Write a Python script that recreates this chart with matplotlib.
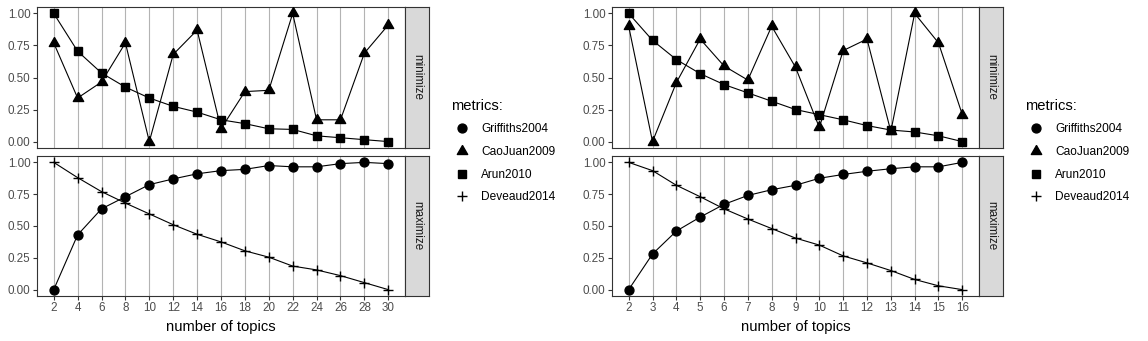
import matplotlib
matplotlib.use("Agg")
import matplotlib.pyplot as plt
from matplotlib.lines import Line2D

plt.rcParams["font.family"] = ["Liberation Sans", "DejaVu Sans"]

# first run: 2..30 topics
topics_a = [2, 4, 6, 8, 10, 12, 14, 16, 18, 20, 22, 24, 26, 28, 30]
griffiths_a = [0.00, 0.43, 0.635, 0.73, 0.825, 0.87, 0.91, 0.935, 0.945, 0.975, 0.965, 0.965, 0.99, 1.00, 0.99]
caojuan_a = [0.77, 0.34, 0.465, 0.77, 0.00, 0.68, 0.87, 0.10, 0.39, 0.40, 1.00, 0.17, 0.17, 0.69, 0.91]
arun_a = [1.00, 0.705, 0.535, 0.425, 0.34, 0.275, 0.23, 0.17, 0.14, 0.10, 0.095, 0.045, 0.03, 0.015, 0.00]
deveaud_a = [1.00, 0.88, 0.77, 0.68, 0.595, 0.51, 0.435, 0.375, 0.305, 0.255, 0.185, 0.155, 0.11, 0.055, 0.00]

# second run: 2..16 topics
topics_b = [2, 3, 4, 5, 6, 7, 8, 9, 10, 11, 12, 13, 14, 15, 16]
griffiths_b = [0.00, 0.28, 0.46, 0.57, 0.67, 0.74, 0.785, 0.82, 0.875, 0.905, 0.93, 0.95, 0.965, 0.965, 1.00]
caojuan_b = [0.90, 0.00, 0.46, 0.80, 0.59, 0.48, 0.90, 0.58, 0.11, 0.71, 0.80, 0.08, 1.00, 0.77, 0.21]
arun_b = [1.00, 0.79, 0.64, 0.53, 0.445, 0.38, 0.315, 0.25, 0.21, 0.17, 0.125, 0.09, 0.075, 0.045, 0.00]
deveaud_b = [1.00, 0.935, 0.82, 0.73, 0.635, 0.555, 0.48, 0.405, 0.35, 0.265, 0.21, 0.15, 0.08, 0.03, 0.00]

metric_names = ["Griffiths2004", "CaoJuan2009", "Arun2010", "Deveaud2014"]
y_ticks = [0.0, 0.25, 0.5, 0.75, 1.0]

W, H = 1148, 341
DARK = "#333333"
GRID = "#B3B3B3"

# triangle with its centroid on the data point
TRI = [(0, 1), (-0.866, -0.5), (0.866, -0.5), (0, 1)]
MARKERS = {
    "Griffiths2004": dict(marker="o", ms=6.4),
    "CaoJuan2009": dict(marker=TRI, ms=8.6),
    "Arun2010": dict(marker="s", ms=6.4),
    "Deveaud2014": dict(marker="+", ms=7.8, mew=1.0),
}


def box(x0, y0, x1, y1):
    return [x0 / W, 1 - y1 / H, (x1 - x0) / W, (y1 - y0) / H]


def style_panel(ax, topics, pad, show_x):
    ax.set_xlim(topics[0] - pad, topics[-1] + pad)
    ax.set_ylim(-0.05, 1.05)
    ax.set_xticks(topics)
    ax.set_yticks(y_ticks)
    ax.set_yticklabels(["%.2f" % v for v in y_ticks])
    ax.grid(axis="x", color=GRID, lw=0.8)
    ax.set_axisbelow(True)
    for s in ax.spines.values():
        s.set_color(DARK)
        s.set_linewidth(0.8)
    ax.tick_params(colors=DARK, labelcolor="#4D4D4D", labelsize=8.4,
                   length=2.6, width=0.8, pad=2)
    if not show_x:
        ax.tick_params(axis="x", bottom=False, labelbottom=False)


def strip(fig, rect, label):
    s = fig.add_axes(rect)
    s.set_facecolor("#D9D9D9")
    s.set_xticks([])
    s.set_yticks([])
    for sp in s.spines.values():
        sp.set_color(DARK)
        sp.set_linewidth(0.8)
    s.text(0.5, 0.5, label, rotation=-90, ha="center", va="center",
           fontsize=8.4, color="#1A1A1A", transform=s.transAxes)


def draw_tuning(fig, x0, x1, legend_x, topics, pad, values):
    top = fig.add_axes(box(x0, 7, x1, 148))
    bottom = fig.add_axes(box(x0, 156, x1, 296))
    style_panel(top, topics, pad, False)
    style_panel(bottom, topics, pad, True)

    groups = [(top, ["CaoJuan2009", "Arun2010"]),
              (bottom, ["Griffiths2004", "Deveaud2014"])]
    for ax, names in groups:
        for name in names:
            ax.plot(topics, values[name], color="black", lw=0.8, zorder=2)
        for name in names:
            ax.plot(topics, values[name], ls="none", color="black",
                    zorder=3, **MARKERS[name])

    bottom.set_xlabel("number of topics", fontsize=10.6, color="black", labelpad=4)

    # facet strips sit flush against the panel border
    strip(fig, box(x1, 7, x1 + 24, 148), "minimize")
    strip(fig, box(x1, 156, x1 + 24, 296), "maximize")

    handles = [Line2D([], [], ls="none", color="black", **MARKERS[n]) for n in metric_names]
    fig.legend(handles, metric_names, title="metrics:", loc="upper left",
               bbox_to_anchor=(legend_x / W, 1 - 98.5 / H), frameon=False,
               fontsize=8.6, title_fontsize=10.6, alignment="left",
               borderpad=0, borderaxespad=0, handlelength=1.8,
               handletextpad=0.72, labelspacing=0.9)


fig = plt.figure(figsize=(W / 100, H / 100), dpi=100)

draw_tuning(fig, 37, 405, 451, topics_a, 1.4, {
    "Griffiths2004": griffiths_a, "CaoJuan2009": caojuan_a,
    "Arun2010": arun_a, "Deveaud2014": deveaud_a})
draw_tuning(fig, 612, 979, 1025, topics_b, 0.7, {
    "Griffiths2004": griffiths_b, "CaoJuan2009": caojuan_b,
    "Arun2010": arun_b, "Deveaud2014": deveaud_b})

fig.savefig("out.png", dpi=100)
